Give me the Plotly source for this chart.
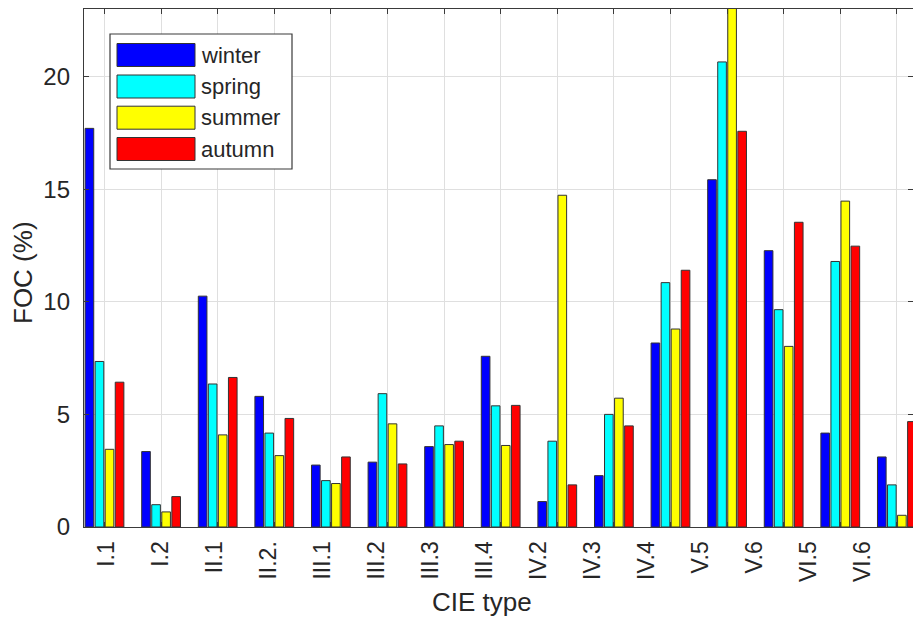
import plotly.graph_objects as go

# ---------------- data ----------------
categories = ["I.1", "I.2", "II.1", "II.2.", "III.1", "III.2", "III.3", "III.4",
              "IV.2", "IV.3", "IV.4", "V.5", "V.6", "VI.5", "VI.6"]
series_names = ["winter", "spring", "summer", "autumn"]
winter = [17.7, 3.35, 10.25, 5.8, 2.75, 2.88, 3.57, 7.58, 1.13, 2.28, 8.17, 15.42, 12.27, 4.17, 3.11]
spring = [7.35, 0.99, 6.35, 4.17, 2.06, 5.92, 4.49, 5.38, 3.81, 5.0, 10.85, 20.65, 9.65, 11.79, 1.87]
summer = [3.45, 0.67, 4.09, 3.17, 1.93, 4.58, 3.66, 3.62, 14.73, 5.72, 8.79, 23.6, 8.02, 14.47, 0.52]
autumn = [6.43, 1.35, 6.64, 4.82, 3.11, 2.80, 3.81, 5.40, 1.87, 4.49, 11.40, 17.57, 13.53, 12.47, 4.68]
y_ticks = [0, 5, 10, 15, 20]
x_title = "CIE type"
y_title = "FOC (%)"

colors = ["#0000FF", "#00FFFF", "#FFFF00", "#FF0000"]
FONT = "Arial, Liberation Sans, Helvetica, sans-serif"
TXT = "#262626"
AX = "#3a3a3a"
GRID = "#dfdfdf"

W, H = 913, 618
ML, MR, MT, MB = 84, 0, 9, 91
PW, PH = W - ML - MR, H - MT - MB

fig = go.Figure()
idx = list(range(len(categories)))
for name, vals, col in zip(series_names, [winter, spring, summer, autumn], colors):
    fig.add_trace(go.Bar(
        x=idx, y=vals, name=name,
        marker=dict(color=col, line=dict(color="#333333", width=1)),
        showlegend=False,
    ))

# invisible helper trace to activate the label axis
fig.add_trace(go.Scatter(x=idx, y=[0] * len(idx), xaxis="x2", yaxis="y",
                         mode="markers", marker=dict(opacity=0),
                         showlegend=False, hoverinfo="skip"))

fig.update_layout(
    width=W, height=H,
    margin=dict(l=ML, r=MR, t=MT, b=MB, pad=0),
    paper_bgcolor="white", plot_bgcolor="white",
    barmode="group", bargap=0.29, bargroupgap=0.14,
    font=dict(family=FONT, color=TXT),
    showlegend=False,
    xaxis=dict(
        range=[-0.362, 14.285], tickvals=idx, showticklabels=False,
        ticks="inside", ticklen=5, tickwidth=1, tickcolor=AX,
        showgrid=True, gridcolor=GRID, gridwidth=1,
        showline=True, linecolor=AX, linewidth=1.3, mirror="ticks",
        zeroline=False,
    ),
    xaxis2=dict(
        overlaying="x", anchor="y", side="bottom",
        range=[-0.42, 14.93], tickvals=idx, ticktext=categories,
        tickangle=-90, ticks="outside", ticklen=4, tickcolor="rgba(0,0,0,0)",
        showgrid=False, showline=False, zeroline=False,
        tickfont=dict(size=23, color=TXT, family=FONT),
    ),
    yaxis=dict(
        range=[0, 23], tickvals=y_ticks,
        ticks="inside", ticklen=5, tickwidth=1, tickcolor=AX,
        tickfont=dict(size=24, color=TXT, family=FONT),
        showgrid=True, gridcolor=GRID, gridwidth=1,
        showline=True, linecolor=AX, linewidth=1.3, mirror="ticks",
        zeroline=False, ticklabelstandoff=8,
    ),
)

def px2paper_x(px):
    return (px - ML) / PW

def px2paper_y(py):
    return (H - MB - py) / PH

# axis titles
fig.add_annotation(text=x_title, xref="paper", yref="paper",
                   x=px2paper_x(482), y=px2paper_y(602), xanchor="center", yanchor="middle",
                   showarrow=False, font=dict(size=26, color=TXT, family=FONT))
fig.add_annotation(text=y_title, xref="paper", yref="paper", textangle=-90,
                   x=px2paper_x(23), y=px2paper_y(272), xanchor="center", yanchor="middle",
                   showarrow=False, font=dict(size=26, color=TXT, family=FONT))

# legend (MATLAB style, wide swatches)
shapes = [dict(type="rect", xref="paper", yref="paper",
               x0=px2paper_x(110), x1=px2paper_x(292), y0=px2paper_y(169), y1=px2paper_y(34),
               fillcolor="white", line=dict(color=AX, width=1.2), layer="above")]
row_centers = [55, 86.5, 117.7, 149]
for name, col, cy in zip(series_names, colors, row_centers):
    shapes.append(dict(type="rect", xref="paper", yref="paper",
                       x0=px2paper_x(117), x1=px2paper_x(195),
                       y0=px2paper_y(cy + 11.5), y1=px2paper_y(cy - 11.5),
                       fillcolor=col, line=dict(color="#333333", width=1), layer="above"))
    fig.add_annotation(text=name, xref="paper", yref="paper",
                       x=px2paper_x(199), y=px2paper_y(cy), xanchor="left", yanchor="middle",
                       showarrow=False, font=dict(size=22, color=TXT, family=FONT))
fig.update_layout(shapes=shapes)

fig.write_html("out.html")
